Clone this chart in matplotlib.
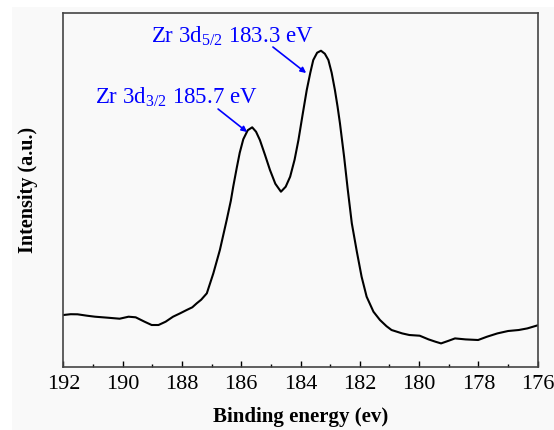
import matplotlib
matplotlib.use("Agg")
import matplotlib.pyplot as plt
from matplotlib.patches import Rectangle
from matplotlib.ticker import MultipleLocator

plt.rcParams["font.family"] = ["Liberation Serif", "DejaVu Serif"]
plt.rcParams["mathtext.fontset"] = "custom"
plt.rcParams["mathtext.rm"] = "Liberation Serif"
plt.rcParams["mathtext.it"] = "Liberation Serif"

# Zr 3d spectrum (binding energy in eV, intensity a.u.)
binding_energy = [
    192.00, 191.75, 191.52, 191.20, 190.93, 190.50, 190.10, 189.80, 189.56,
    189.26, 189.02, 188.79, 188.55, 188.30, 188.06, 187.84, 187.65, 187.50,
    187.35, 187.16, 186.94, 186.72, 186.49, 186.35, 186.27, 186.15, 186.05,
    185.93, 185.78, 185.63, 185.50, 185.37, 185.20, 185.03, 184.85, 184.66,
    184.50, 184.35, 184.20, 184.07, 183.93, 183.79, 183.67, 183.57, 183.44,
    183.31, 183.18, 183.06, 182.95, 182.84, 182.75, 182.67, 182.53, 182.41,
    182.27, 182.10, 181.94, 181.77, 181.54, 181.32, 181.10, 180.93, 180.57,
    180.33, 179.98, 179.68, 179.45, 179.26, 179.00, 178.79, 178.43, 178.01,
    177.71, 177.36, 177.00, 176.64, 176.35, 176.01,
]
intensity = [
    51.7, 52.5, 52.4, 51.0, 50.0, 49.0, 48.0, 50.0, 49.4,
    45.0, 41.7, 41.7, 45.0, 50.0, 53.4, 56.7, 59.4, 63.4,
    67.0, 73.4, 93.4, 116.7, 146.7, 166.0, 180.0, 199.0, 214.0,
    227.5, 236.5, 239.4, 235.0, 226.7, 212.0, 196.7, 183.0, 175.0,
    180.0, 190.0, 207.0, 226.7, 252.0, 276.7, 294.0, 306.7, 314.0,
    316.0, 313.0, 306.7, 294.0, 276.7, 260.0, 243.4, 210.0, 178.0,
    143.4, 115.0, 90.0, 70.0, 55.0, 46.7, 40.5, 36.7, 33.3,
    31.7, 31.0, 27.3, 25.0, 23.3, 26.0, 28.3, 27.3, 26.7,
    30.0, 33.3, 35.7, 36.7, 38.3, 41.3,
]

peak_labels = [r"Zr 3d$_{5/2}$ 183.3 eV", r"Zr 3d$_{3/2}$ 185.7 eV"]
label_pos = [(189.04, 324.0), (190.93, 263.4)]
arrow_from = [(184.93, 319.7), (186.78, 257.7)]
arrow_to = [(183.81, 293.7), (185.80, 234.7)]

bg = "#f9f9f9"
fig = plt.figure(figsize=(5.54, 4.30), dpi=100)
fig.patch.set_facecolor("white")
fig.patches.append(Rectangle((12 / 554, 0), 1, 1 - 7 / 430, transform=fig.transFigure,
                             facecolor=bg, edgecolor="none", zorder=-10))
ax = fig.add_axes([0.1143, 0.1472, 0.8563, 0.8218])
ax.set_facecolor(bg)

ax.plot(binding_energy, intensity, color="black", lw=1.5)

for txt, (x, y) in zip(peak_labels, label_pos):
    ax.text(x, y, txt, color="blue", fontsize=16.5, ha="left", va="baseline")
for a, b in zip(arrow_from, arrow_to):
    ax.annotate("", xy=b, xytext=a,
                arrowprops=dict(arrowstyle="-|>", color="blue", lw=1.2,
                                mutation_scale=8, shrinkA=0, shrinkB=0))

ax.set_xlim(192, 176)
ax.set_ylim(0, 353.4)
ax.xaxis.set_major_locator(MultipleLocator(2))
ax.xaxis.set_minor_locator(MultipleLocator(1))
ax.tick_params(axis="x", which="both", direction="in", top=False, labelsize=16, pad=6)
ax.tick_params(axis="x", which="major", length=4.5, width=1)
ax.tick_params(axis="x", which="minor", length=2.5, width=1)
ax.set_yticks([])
for s in ax.spines.values():
    s.set_color("#444444")
    s.set_linewidth(1.2)

ax.set_xlabel("Binding energy (ev)", fontsize=15, fontweight="bold", labelpad=9)
ax.set_ylabel("Intensity (a.u.)", fontsize=14.5, fontweight="bold", labelpad=18)

fig.savefig("out.png", dpi=100, facecolor=fig.get_facecolor())
